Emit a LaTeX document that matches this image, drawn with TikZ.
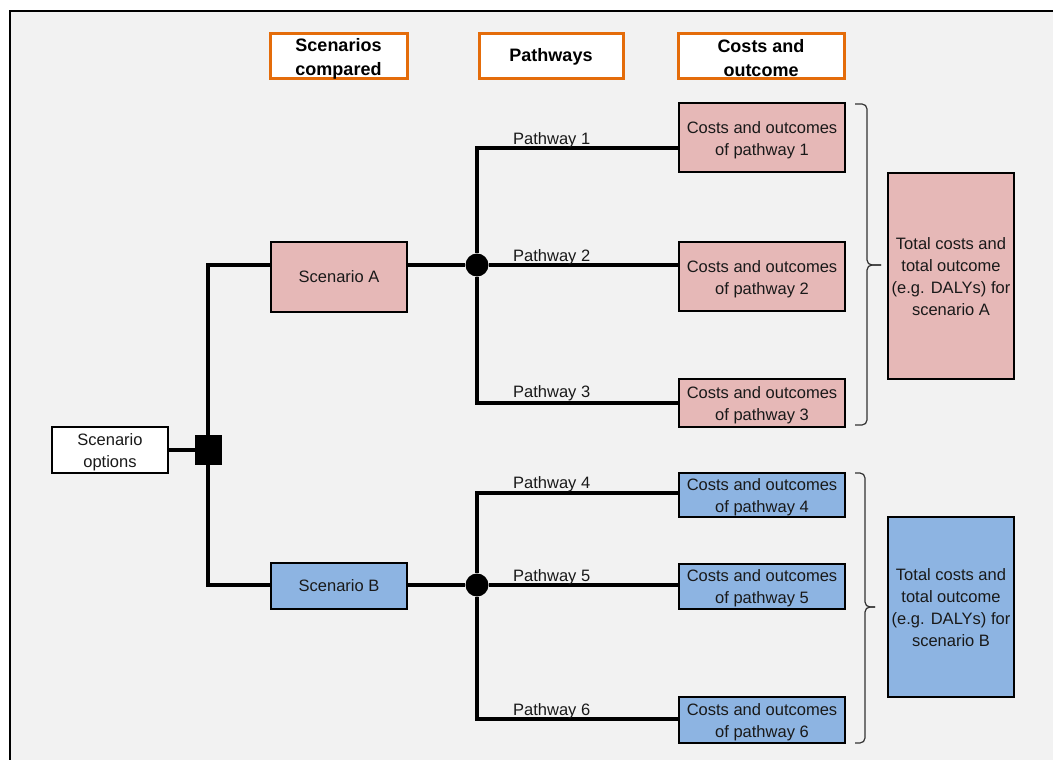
\documentclass[tikz,border=0pt]{standalone}
\usepackage{fontspec}
\setmainfont{Liberation Sans}
\definecolor{bgc}{HTML}{F2F2F2}
\definecolor{pinkc}{HTML}{E6B8B7}
\definecolor{bluec}{HTML}{8DB4E2}
\definecolor{orangec}{HTML}{E46C0A}
\definecolor{bracec}{HTML}{333333}
\newcommand\tstr[1]{\rule{0pt}{#1}}
\begin{document}
\begin{tikzpicture}[x=1pt,y=-1pt,
  txt/.style={font=\fontsize{16.5}{22}\selectfont, text=black!90, align=center},
  hdr/.style={draw=orangec, line width=3pt, fill=white, inner sep=0pt, align=center,
    font=\fontsize{18}{24}\selectfont\bfseries, minimum height=45pt},
  bx/.style={txt, draw=black, line width=2.5pt, inner sep=0pt},
  pbox/.style={bx, fill=pinkc},
  bbox/.style={bx, fill=bluec},
  conn/.style={line width=3.1pt, draw=black},
  brc/.style={line width=1.2pt, draw=bracec, rounded corners=5pt},
  lbl/.style={txt, inner sep=0pt, anchor=base west}]
\useasboundingbox (0,0) rectangle (1053,760);
\clip (0,0) rectangle (1053,760);
\fill[white] (0,0) rectangle (1053,760);
\fill[bgc] (10,11) rectangle (1075,785);
\draw[line width=2.4pt] (10,11) rectangle (1075,785);

% headers
\node[hdr, minimum width=137pt] (h1) at (338.5,56.5) {\tstr{17pt}Scenarios\\compared};
\node[hdr, minimum width=144pt] (h2) at (551,56.5) {Pathways};
\node[hdr, minimum width=166pt] (h3) at (761,56.5) {\tstr{17pt}Costs and\\outcome};

% left
\node[bx, fill=white, minimum width=116pt, minimum height=46pt] (opt) at (110,450) {\tstr{16pt}Scenario\\options};
\node[fill=black, draw=black, inner sep=0pt, minimum width=26pt, minimum height=29pt] (sq) at (208,450) {};

% scenarios
\node[pbox, minimum width=136pt, minimum height=70pt] (sA) at (339,277) {Scenario A};
\node[bbox, minimum width=136pt, minimum height=46pt] (sB) at (339,586) {Scenario B};

% junctions
\node[circle, fill=black, inner sep=0pt, minimum size=23pt] (jA) at (477,265) {};
\node[circle, fill=black, inner sep=0pt, minimum size=23pt] (jB) at (477,585) {};

% cost boxes
\node[pbox, minimum width=166pt, minimum height=69pt] (c1) at (762,137.5) {\tstr{18pt}Costs and outcomes\\of pathway 1};
\node[pbox, minimum width=166pt, minimum height=69pt] (c2) at (762,276.5) {\tstr{18pt}Costs and outcomes\\of pathway 2};
\node[pbox, minimum width=166pt, minimum height=48pt] (c3) at (762,403) {\tstr{16pt}Costs and outcomes\\of pathway 3};
\node[bbox, minimum width=166pt, minimum height=44pt] (c4) at (762,495) {\tstr{16pt}Costs and outcomes\\of pathway 4};
\node[bbox, minimum width=166pt, minimum height=45pt] (c5) at (762,586.5) {\tstr{16pt}Costs and outcomes\\of pathway 5};
\node[bbox, minimum width=166pt, minimum height=46pt] (c6) at (762,720) {\tstr{16pt}Costs and outcomes\\of pathway 6};

% totals
\node[pbox, minimum width=126pt, minimum height=206pt] (tA) at (951,276) {\tstr{14pt}Total costs and\\total outcome\\(e.g. DALYs) for\\scenario A};
\node[bbox, minimum width=126pt, minimum height=180pt] (tB) at (951,607) {\tstr{14pt}Total costs and\\total outcome\\(e.g. DALYs) for\\scenario B};

% entry points
\coordinate (e1) at (c1.west |- 0,148);
\coordinate (e3) at (c3.west |- 0,403);
\coordinate (e4) at (c4.west |- 0,493);
\coordinate (e6) at (c6.west |- 0,719);

% connectors
\draw[conn] (opt.east) -- (sq.west);
\draw[conn] (sq.north) |- (sA.west |- jA);
\draw[conn] (sq.south) |- (sB.west |- jB);
\draw[conn] (sA.east |- jA) -- (jA);
\draw[conn] (sB.east |- jB) -- (jB);
\draw[conn] (jA) |- (e1);
\draw[conn] (jA) -- (c2.west |- jA);
\draw[conn] (jA) |- (e3);
\draw[conn] (jB) |- (e4);
\draw[conn] (jB) -- (c5.west |- jB);
\draw[conn] (jB) |- (e6);

% pathway labels
\node[lbl] (l1) at (513,144) {Pathway 1};
\node[lbl] (l2) at (513,261) {Pathway 2};
\node[lbl] (l3) at (513,397) {Pathway 3};
\node[lbl] (l4) at (513,488) {Pathway 4};
\node[lbl] (l5) at (513,581) {Pathway 5};
\node[lbl] (l6) at (513,715) {Pathway 6};

% braces
\draw[brc] (855,104) -- (867,104) -- (867,265) -- (881,265);
\draw[brc] (855,425) -- (867,425) -- (867,265) -- (881,265);
\draw[brc] (855,473) -- (865,473) -- (865,607) -- (875,607);
\draw[brc] (855,743) -- (865,743) -- (865,607) -- (875,607);
\end{tikzpicture}
\end{document}
